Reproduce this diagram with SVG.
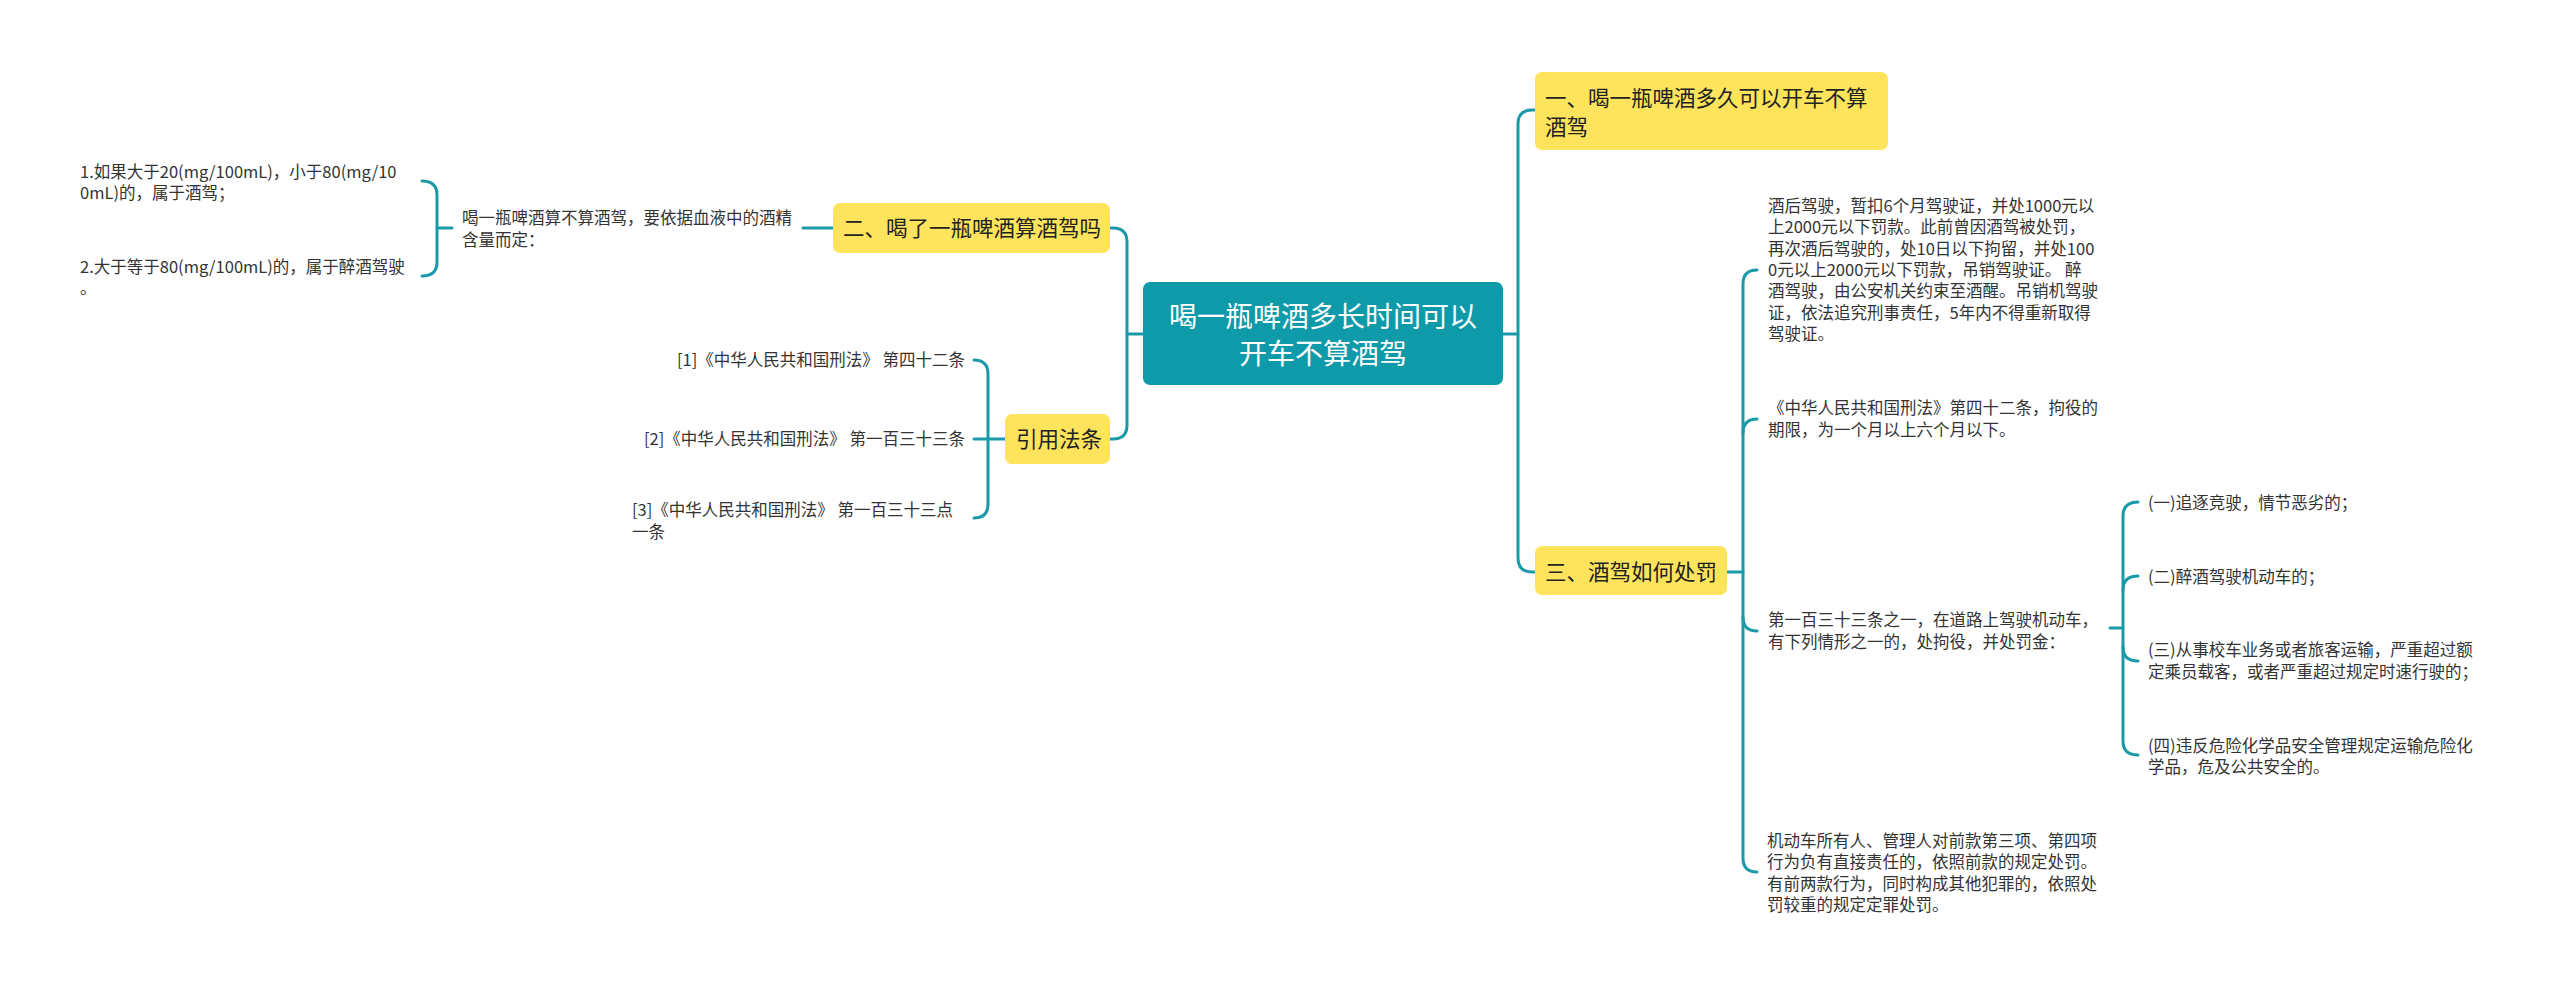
<svg xmlns="http://www.w3.org/2000/svg" width="2560" height="995" viewBox="0 0 2560 995">
<style>
.ln{fill:none;stroke:#1a9aa8;stroke-width:3;stroke-linecap:round}
.yb{fill:#fde45c}
.rb{fill:#0f9aa9}
.t{font-family:"Noto Sans CJK SC","Microsoft YaHei",sans-serif;fill:#333333;font-size:16.5px}
.n{font-family:"Noto Sans CJK SC","Microsoft YaHei",sans-serif;fill:#222222;font-size:21.5px}
.r{font-family:"Noto Sans CJK SC","Microsoft YaHei",sans-serif;fill:#ffffff;font-size:28px}
</style>
<rect width="2560" height="995" fill="#ffffff"/>
<g id="connectors">
<path class="ln" d="M1143,334 H1127"/>
<path class="ln" d="M1110,228 H1113 Q1127,228 1127,242 V425 Q1127,439 1113,439 H1110"/>
<path class="ln" d="M1503,334 H1518"/>
<path class="ln" d="M1535,110 H1532 Q1518,110 1518,124 V558 Q1518,572 1532,572 H1535"/>
<path class="ln" d="M833,228 H803"/>
<path class="ln" d="M452,228 H437"/>
<path class="ln" d="M422,181 Q437,181 437,195 V262 Q437,276 422,276"/>
<path class="ln" d="M1005,439 H974"/>
<path class="ln" d="M974,360 Q988,360 988,374 V504 Q988,518 974,518"/>
<path class="ln" d="M1727,572 H1743"/>
<path class="ln" d="M1757,270 Q1743,270 1743,284 V858 Q1743,872 1757,872"/>
<path class="ln" d="M1743,433 Q1743,419 1757,419"/>
<path class="ln" d="M1743,617 Q1743,631 1757,631"/>
<path class="ln" d="M2110,628 H2123"/>
<path class="ln" d="M2138,502 Q2123,502 2123,516 V741 Q2123,755 2138,755"/>
<path class="ln" d="M2123,590 Q2123,576 2138,576"/>
<path class="ln" d="M2123,647 Q2123,661 2138,661"/>
</g>
<g id="root">
<rect class="rb" x="1143" y="282" width="360" height="103" rx="7"/>
<text class="r" text-anchor="middle"><tspan x="1323" y="327">喝一瓶啤酒多长时间可以</tspan><tspan x="1323" y="364">开车不算酒驾</tspan></text>
</g>
<g id="node-1">
<rect class="yb" x="1535" y="72" width="353" height="78" rx="7"/>
<text class="n"><tspan x="1545" y="106">一、喝一瓶啤酒多久可以开车不算</tspan><tspan x="1545" y="135">酒驾</tspan></text>
</g>
<g id="node-2">
<rect class="yb" x="833" y="203" width="277" height="50" rx="7"/>
<text class="n" x="843" y="236">二、喝了一瓶啤酒算酒驾吗</text>
</g>
<g id="node-3">
<rect class="yb" x="1535" y="546" width="192" height="49" rx="7"/>
<text class="n" x="1545" y="580">三、酒驾如何处罚</text>
</g>
<g id="node-cite">
<rect class="yb" x="1005" y="414" width="105" height="50" rx="7"/>
<text class="n" x="1016" y="447">引用法条</text>
</g>
<g id="node-2-desc">
<text class="t"><tspan x="462" y="224">喝一瓶啤酒算不算酒驾，要依据血液中的酒精</tspan><tspan x="462" y="246">含量而定：</tspan></text>
</g>
<g id="node-2-a">
<text class="t"><tspan x="80" y="178">1.如果大于20(mg/100mL)，小于80(mg/10</tspan><tspan x="80" y="199">0mL)的，属于酒驾；</tspan></text>
</g>
<g id="node-2-b">
<text class="t"><tspan x="80" y="273">2.大于等于80(mg/100mL)的，属于醉酒驾驶</tspan><tspan x="80" y="294">。</tspan></text>
</g>
<g id="cite-1">
<text class="t" x="965" y="366" text-anchor="end">[1]《中华人民共和国刑法》 第四十二条</text>
</g>
<g id="cite-2">
<text class="t" x="965" y="445" text-anchor="end">[2]《中华人民共和国刑法》 第一百三十三条</text>
</g>
<g id="cite-3">
<text class="t"><tspan x="632" y="516">[3]《中华人民共和国刑法》 第一百三十三点</tspan><tspan x="632" y="538">一条</tspan></text>
</g>
<g id="node-3-a">
<text class="t"><tspan x="1768" y="212">酒后驾驶，暂扣6个月驾驶证，并处1000元以</tspan><tspan x="1768" y="233">上2000元以下罚款。此前曾因酒驾被处罚，</tspan><tspan x="1768" y="255">再次酒后驾驶的，处10日以下拘留，并处100</tspan><tspan x="1768" y="276">0元以上2000元以下罚款，吊销驾驶证。 醉</tspan><tspan x="1768" y="297">酒驾驶，由公安机关约束至酒醒。吊销机驾驶</tspan><tspan x="1768" y="319">证，依法追究刑事责任，5年内不得重新取得</tspan><tspan x="1768" y="340">驾驶证。</tspan></text>
</g>
<g id="node-3-b">
<text class="t"><tspan x="1768" y="414">《中华人民共和国刑法》第四十二条，拘役的</tspan><tspan x="1768" y="436">期限，为一个月以上六个月以下。</tspan></text>
</g>
<g id="node-3-c">
<text class="t"><tspan x="1768" y="626">第一百三十三条之一，在道路上驾驶机动车，</tspan><tspan x="1768" y="648">有下列情形之一的，处拘役，并处罚金：</tspan></text>
</g>
<g id="node-3-c-1">
<text class="t" x="2148" y="509">(一)追逐竞驶，情节恶劣的；</text>
</g>
<g id="node-3-c-2">
<text class="t" x="2148" y="583">(二)醉酒驾驶机动车的；</text>
</g>
<g id="node-3-c-3">
<text class="t"><tspan x="2148" y="656">(三)从事校车业务或者旅客运输，严重超过额</tspan><tspan x="2148" y="678">定乘员载客，或者严重超过规定时速行驶的；</tspan></text>
</g>
<g id="node-3-c-4">
<text class="t"><tspan x="2148" y="752">(四)违反危险化学品安全管理规定运输危险化</tspan><tspan x="2148" y="773">学品，危及公共安全的。</tspan></text>
</g>
<g id="node-3-d">
<text class="t"><tspan x="1767" y="847">机动车所有人、管理人对前款第三项、第四项</tspan><tspan x="1767" y="868">行为负有直接责任的，依照前款的规定处罚。</tspan><tspan x="1767" y="890">有前两款行为，同时构成其他犯罪的，依照处</tspan><tspan x="1767" y="911">罚较重的规定定罪处罚。</tspan></text>
</g>
</svg>
